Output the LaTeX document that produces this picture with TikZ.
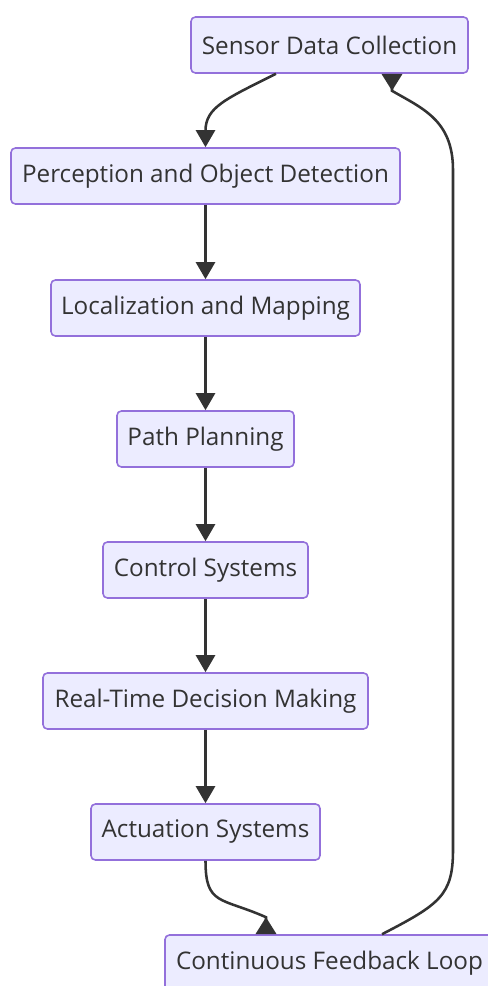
\documentclass[tikz,border=0pt]{standalone}
\usepackage{fontspec}
\setmainfont{Open Sans}
\usepackage{xcolor}
\usepackage{tikz}
\usetikzlibrary{arrows.meta,positioning,calc}
\definecolor{lav}{HTML}{ECECFF}
\definecolor{lavline}{HTML}{9370DB}
\definecolor{ink}{HTML}{333333}
\tikzset{
  stepbox/.style={draw=lavline,fill=lav,line width=0.9pt,rounded corners=2.5pt,align=center,text=ink,minimum height=1.12cm,inner sep=0pt,font=\fontsize{13.8}{16}\selectfont},
  arrow/.style={-{Triangle[length=3.4mm,width=3.8mm]},line width=1.45pt,draw=ink},
  backarrow/.style={arrow,-{Triangle[reversed,length=3.4mm,width=4.1mm]}},
}

\begin{document}
\begin{tikzpicture}
    \useasboundingbox (0,0) rectangle (9.76,-19.72);
    % the pipeline stages, top to bottom
    \foreach \n/\x/\y/\w/\t in {
      sensor/6.59/-0.90/5.54/Sensor Data Collection,
      perc/4.11/-3.52/7.78/Perception and Object Detection,
      local/4.11/-6.16/6.18/Localization and Mapping,
      path/4.11/-8.78/3.54/Path Planning,
      ctrl/4.11/-11.40/4.10/Control Systems,
      rtdm/4.11/-14.02/6.50/Real-Time Decision Making,
      act/4.11/-16.64/4.58/Actuation Systems,
      cont/6.59/-19.26/6.58/Continuous Feedback Loop} {
      \node[stepbox,minimum width=\w cm] (\n) at (\x,\y) {\t};
    }
    % straight hand-offs
    \foreach \a/\b in {perc/local,local/path,path/ctrl,ctrl/rtdm,rtdm/act}
      \draw[arrow] (\a.south) -- (\b.north);
    \draw[arrow] ([xshift=-1.07cm]sensor.south) .. controls +(-1.0,-0.5) and +(0,0.8) .. (perc.north);
    \draw[backarrow] (act.south) .. controls +(0,-0.9) and +(-0.9,0.4) .. ([xshift=-1.27cm,yshift=0.34cm]cont.north) -- ([xshift=-1.27cm]cont.north);
    % feedback rail back up to the sensors
    \coordinate (railbot) at (9.06,-17.0);
    \coordinate (railtop) at (9.06,-3.4);
    \draw[backarrow] ([xshift=1.05cm]cont.north) .. controls +(1.16,0.6) and +(0,-0.9) .. (railbot) -- (railtop)
      .. controls +(0,1.0) and +(0.6,-0.35) .. ([xshift=1.25cm,yshift=-0.34cm]sensor.south) -- ([xshift=1.25cm]sensor.south);
\end{tikzpicture}
\end{document}
